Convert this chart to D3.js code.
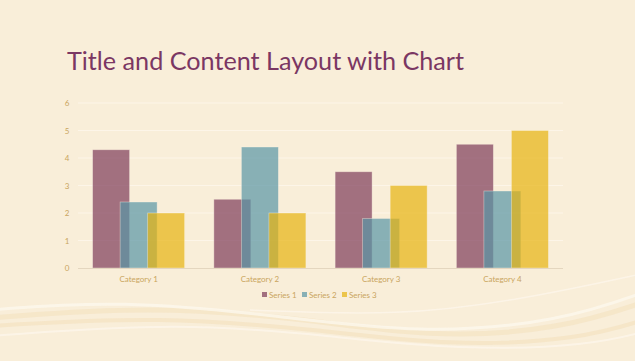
<!DOCTYPE html>
<html>
<head>
<meta charset="utf-8">
<script src="https://cdn.jsdelivr.net/npm/d3@7"></script>
<style>
  html, body { margin: 0; padding: 0; background: #f9eed9; }
  svg { display: block; }
</style>
</head>
<body>
<script>
// chart data
var categories = ["Category 1", "Category 2", "Category 3", "Category 4"];
var seriesNames = ["Series 1", "Series 2", "Series 3"];
var series1 = [4.3, 2.5, 3.5, 4.5];
var series2 = [2.4, 4.4, 1.8, 2.8];
var series3 = [2, 2, 3, 5];
var yTicks = [0, 1, 2, 3, 4, 5, 6];

var colors = ["#7d3b59", "#5896a5", "#e7b310"];
var allSeries = [series1, series2, series3];

var w = 635;
var h = 361;

var svg = d3.select("body")
  .append("svg")
  .attr("width", w)
  .attr("height", h);

svg.append("rect")
  .attr("width", w)
  .attr("height", h)
  .attr("fill", "#f9eed9");

// background swooshes at the bottom
var line = d3.line().curve(d3.curveBasis);
var waves = [
  {pts: [[-10, 318], [150, 306], [300, 318], [430, 338], [560, 330], [650, 300]], stroke: "#f3dfb9", width: 5, op: 0.5},
  {pts: [[-10, 326], [160, 316], [320, 330], [450, 346], [580, 340], [650, 318]], stroke: "#f2dcb4", width: 4, op: 0.45},
  {pts: [[-10, 310], [120, 300], [280, 316], [420, 334], [560, 322], [650, 290]], stroke: "#fdf7ec", width: 3, op: 0.8},
  {pts: [[-10, 336], [180, 322], [330, 336], [460, 350], [590, 346], [650, 330]], stroke: "#fdf7ec", width: 2, op: 0.7},
  {pts: [[250, 310], [400, 316], [520, 300], [650, 272]], stroke: "#fdf7ec", width: 1.5, op: 0.7}
];
waves.forEach(function(wv) {
  svg.append("path")
    .attr("d", line(wv.pts))
    .attr("fill", "none")
    .attr("stroke", wv.stroke)
    .attr("stroke-width", wv.width)
    .attr("opacity", wv.op);
});

// title
svg.append("text")
  .attr("x", 67)
  .attr("y", 70)
  .attr("font-family", "Lato, sans-serif")
  .attr("font-size", 25.2)
  .attr("fill", "#7b3763")
  .text("Title and Content Layout with Chart");

var x = d3.scaleBand()
  .domain(categories)
  .range([78, 563]);

var y = d3.scaleLinear()
  .domain([0, 6])
  .range([268, 103]);

// gridlines
svg.selectAll("line.grid")
  .data(yTicks.slice(1))
  .enter()
  .append("line")
  .attr("class", "grid")
  .attr("x1", 78)
  .attr("x2", 563)
  .attr("y1", function(d) { return y(d); })
  .attr("y2", function(d) { return y(d); })
  .attr("stroke", "#fdf5e8")
  .attr("stroke-width", 1);

// y tick labels
svg.selectAll("text.ytick")
  .data(yTicks)
  .enter()
  .append("text")
  .attr("class", "ytick")
  .attr("x", 67)
  .attr("y", function(d) { return y(d) + 3; })
  .attr("text-anchor", "middle")
  .attr("font-family", "Lato, sans-serif")
  .attr("font-size", 8)
  .attr("fill", "#c9a55e")
  .text(function(d) { return d; });

// bars
var bw = x.bandwidth() * 0.305;
var step = x.bandwidth() * 0.227;

allSeries.forEach(function(vals, i) {
  svg.append("g")
    .selectAll("rect")
    .data(vals)
    .enter()
    .append("rect")
    .attr("x", function(d, j) {
      return x(categories[j]) + x.bandwidth() / 2 + (i - 1) * step - bw / 2;
    })
    .attr("y", function(d) { return y(d); })
    .attr("width", bw)
    .attr("height", function(d) { return y(0) - y(d); })
    .attr("fill", colors[i])
    .attr("fill-opacity", 0.7)
    .attr("stroke", "#fbf3e4")
    .attr("stroke-opacity", 0.5)
    .attr("stroke-width", 0.75);
});

// baseline
svg.append("line")
  .attr("x1", 78)
  .attr("x2", 563)
  .attr("y1", y(0) + 0.5)
  .attr("y2", y(0) + 0.5)
  .attr("stroke", "#e4d6bf")
  .attr("stroke-width", 1);

// category labels
svg.selectAll("text.cat")
  .data(categories)
  .enter()
  .append("text")
  .attr("class", "cat")
  .attr("x", function(d) { return x(d) + x.bandwidth() / 2; })
  .attr("y", 282)
  .attr("text-anchor", "middle")
  .attr("font-family", "Lato, sans-serif")
  .attr("font-size", 8)
  .attr("fill", "#c9a55e")
  .text(function(d) { return d; });

// legend
var legendX = [262, 302, 342];
var legend = svg.selectAll("g.legend")
  .data(seriesNames)
  .enter()
  .append("g")
  .attr("class", "legend")
  .attr("transform", function(d, i) { return "translate(" + legendX[i] + ",295)"; });

legend.append("rect")
  .attr("x", 0)
  .attr("y", -3)
  .attr("width", 5)
  .attr("height", 5)
  .attr("fill", function(d, i) { return colors[i]; })
  .attr("fill-opacity", 0.7);

legend.append("text")
  .attr("x", 7)
  .attr("y", 2.5)
  .attr("font-family", "Lato, sans-serif")
  .attr("font-size", 8)
  .attr("fill", "#c9a55e")
  .text(function(d) { return d; });
</script>
</body>
</html>
